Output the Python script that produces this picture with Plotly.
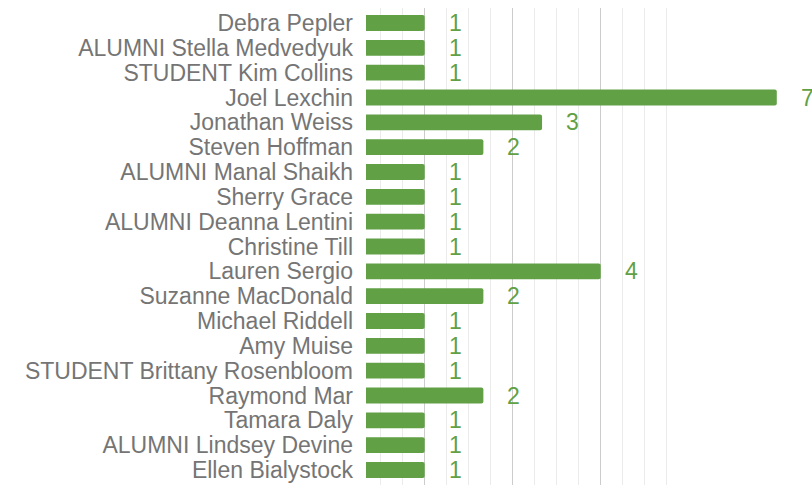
import numpy as np
import plotly.graph_objects as go

names = [
    "Debra Pepler", "ALUMNI Stella Medvedyuk", "STUDENT Kim Collins", "Joel Lexchin",
    "Jonathan Weiss", "Steven Hoffman", "ALUMNI Manal Shaikh", "Sherry Grace",
    "ALUMNI Deanna Lentini", "Christine Till", "Lauren Sergio", "Suzanne MacDonald",
    "Michael Riddell", "Amy Muise", "STUDENT Brittany Rosenbloom", "Raymond Mar",
    "Tamara Daly", "ALUMNI Lindsey Devine", "Ellen Bialystock",
]
counts = [1, 1, 1, 7, 3, 2, 1, 1, 1, 1, 4, 2, 1, 1, 1, 2, 1, 1, 1]

GREEN = "#62a046"
GREY = "#757575"
FONT = "Liberation Sans, Arial, sans-serif"
FS = 23

fig = go.Figure()
fig.add_trace(go.Bar(
    y=names, x=counts, orientation="h",
    marker=dict(color=GREEN, line=dict(width=0), cornerradius=2),
    width=0.64, hoverinfo="skip",
))

for n, c in zip(names, counts):
    fig.add_annotation(x=c, y=n, text=str(c), showarrow=False, xanchor="left",
                       xshift=22, font=dict(family=FONT, size=FS, color=GREEN))

major = [1, 2.5, 4]
minor_vals = [v for v in np.arange(0.25, 5.2, 0.375) if min(abs(v - m) for m in major) > 1e-6]

fig.update_layout(
    width=812, height=487,
    margin=dict(l=366, r=0, t=8, b=2),
    paper_bgcolor="white", plot_bgcolor="white",
    showlegend=False,
    font=dict(family=FONT, size=FS, color=GREY),
    xaxis=dict(range=[0, 7.6], tickmode="array", tickvals=major, showticklabels=False,
               showgrid=True, gridcolor="#cccccc", gridwidth=1, zeroline=False,
               showline=False, ticks="",
               minor=dict(tickmode="array", tickvals=minor_vals, showgrid=True,
                          gridcolor="#ebebeb", gridwidth=1, ticks="")),
    yaxis=dict(categoryorder="array", categoryarray=names, autorange="reversed",
               tickmode="array", tickvals=names, ticktext=names,
               showgrid=False, zeroline=False, showline=False, ticks="",
               ticklabelstandoff=12,
               tickfont=dict(family=FONT, size=FS, color=GREY)),
)

fig.write_html("out.html", config={"displayModeBar": False},
               post_script="document.body.style.margin='0';document.body.style.overflow='hidden';")
